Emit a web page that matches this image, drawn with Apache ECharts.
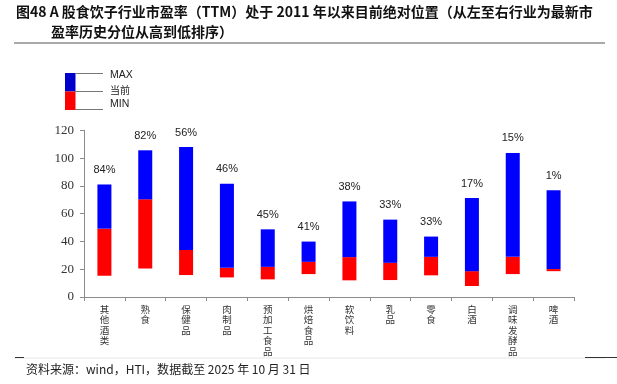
<!DOCTYPE html>
<html><head><meta charset="utf-8">
<script src="https://cdn.jsdelivr.net/npm/echarts@6/dist/echarts.min.js"></script>
<style>html,body{margin:0;padding:0;background:#fff}#c{width:617px;height:384px}</style>
</head><body><div id="c"></div>
<script>
var categories = ['其他酒类','熟食','保健品','肉制品','预加工食品','烘焙食品','软饮料','乳品','零食','白酒','调味发酵品','啤酒'];
var maxVals = [81, 105.6, 108, 81.5, 48.7, 39.9, 68.8, 55.7, 43.5, 71.2, 103.7, 76.9];
var curVals = [49.2, 70.3, 33.9, 21, 21.7, 25.3, 28.7, 24.6, 28.9, 18.6, 28.9, 20.1];
var minVals = [15.3, 20.6, 15.8, 14.1, 12.7, 16.5, 12, 12.2, 15.6, 7.9, 16.5, 18.6];
var pctLabels = ['84%','82%','56%','46%','45%','41%','38%','33%','33%','17%','15%','1%'];
var yTicks = [0, 20, 40, 60, 80, 100, 120];

var redPart = curVals.map(function(v,i){return +(v - minVals[i]).toFixed(2);});
var bluePart = maxVals.map(function(v,i){return +(v - curVals[i]).toFixed(2);});

var chart = echarts.init(document.getElementById('c'));
chart.setOption({
  animation:false,
  backgroundColor:'#fff',
  grid:{left:84,right:43,top:130.3,bottom:87},
  xAxis:{type:'category',data:categories,
    axisLine:{lineStyle:{color:'#8c8c8c',width:1}},
    axisTick:{show:true,length:4,lineStyle:{color:'#8c8c8c'}},
    axisLabel:{interval:0,margin:7,fontFamily:'Noto Sans CJK SC',fontSize:9.5,color:'#333',lineHeight:10.5,verticalAlign:'top',
      formatter:function(v){return v.split('').join('\n');}}},
  yAxis:{type:'value',min:yTicks[0],max:yTicks[yTicks.length-1],interval:20,
    splitLine:{show:false},
    axisLine:{show:true,lineStyle:{color:'#8c8c8c'}},
    axisTick:{show:true,length:4,lineStyle:{color:'#8c8c8c'}},
    axisLabel:{fontFamily:'Liberation Serif',fontSize:13,color:'#333',margin:10}},
  series:[
    {type:'bar',stack:'s',data:minVals,barWidth:14,itemStyle:{color:'rgba(0,0,0,0)'},silent:true},
    {type:'bar',stack:'s',data:redPart,barWidth:14,itemStyle:{color:'#FF0000'}},
    {type:'bar',stack:'s',data:bluePart,barWidth:14,itemStyle:{color:'#0000FF'},
      label:{show:true,position:'top',distance:9,fontFamily:'Liberation Sans',fontSize:11,color:'#222',
        formatter:function(p){return pctLabels[p.dataIndex];}}}
  ],
  graphic:[
    {type:'text',left:16,top:5,style:{text:'图48 A 股食饮子行业市盈率（TTM）处于 2011 年以来目前绝对位置（从左至右行业为最新市',fontFamily:'Noto Sans CJK SC',fontSize:14,fontWeight:'bold',fill:'#111'}},
    {type:'text',left:51,top:24.5,style:{text:'盈率历史分位从高到低排序）',fontFamily:'Noto Sans CJK SC',fontSize:14,fontWeight:'bold',fill:'#111'}},
    {type:'line',shape:{x1:14,y1:43,x2:605,y2:43},style:{stroke:'#555',lineWidth:1.2}},
    {type:'rect',shape:{x:65,y:73,width:10.5,height:18.5},style:{fill:'#0000CC'}},
    {type:'rect',shape:{x:65,y:91.5,width:10.5,height:18.5},style:{fill:'#FF0000'}},
    {type:'line',shape:{x1:75,y1:73.5,x2:103,y2:73.5},style:{stroke:'#777',lineWidth:1}},
    {type:'line',shape:{x1:75,y1:91.5,x2:103,y2:91.5},style:{stroke:'#777',lineWidth:1}},
    {type:'line',shape:{x1:75,y1:109.5,x2:103,y2:109.5},style:{stroke:'#777',lineWidth:1}},
    {type:'text',left:110,top:70,style:{text:'MAX',fontFamily:'Liberation Sans',fontSize:10.5,fill:'#222'}},
    {type:'text',left:110,top:85,style:{text:'当前',fontFamily:'Noto Sans CJK SC',fontSize:10,fill:'#222'}},
    {type:'text',left:110,top:99,style:{text:'MIN',fontFamily:'Liberation Sans',fontSize:10.5,fill:'#222'}},
    {type:'line',shape:{x1:14,y1:358,x2:605,y2:358},style:{stroke:'#e6e6e6',lineWidth:1}},
    {type:'line',shape:{x1:15,y1:357.5,x2:24,y2:357.5},style:{stroke:'#333',lineWidth:1}},
    {type:'line',shape:{x1:585,y1:357.5,x2:617,y2:357.5},style:{stroke:'#333',lineWidth:1}},
    {type:'text',left:26,top:363,style:{text:'资料来源：wind，HTI，数据截至 2025 年 10 月 31 日',fontFamily:'Noto Sans CJK SC',fontSize:12,fill:'#222'}}
  ]
});
</script></body></html>
